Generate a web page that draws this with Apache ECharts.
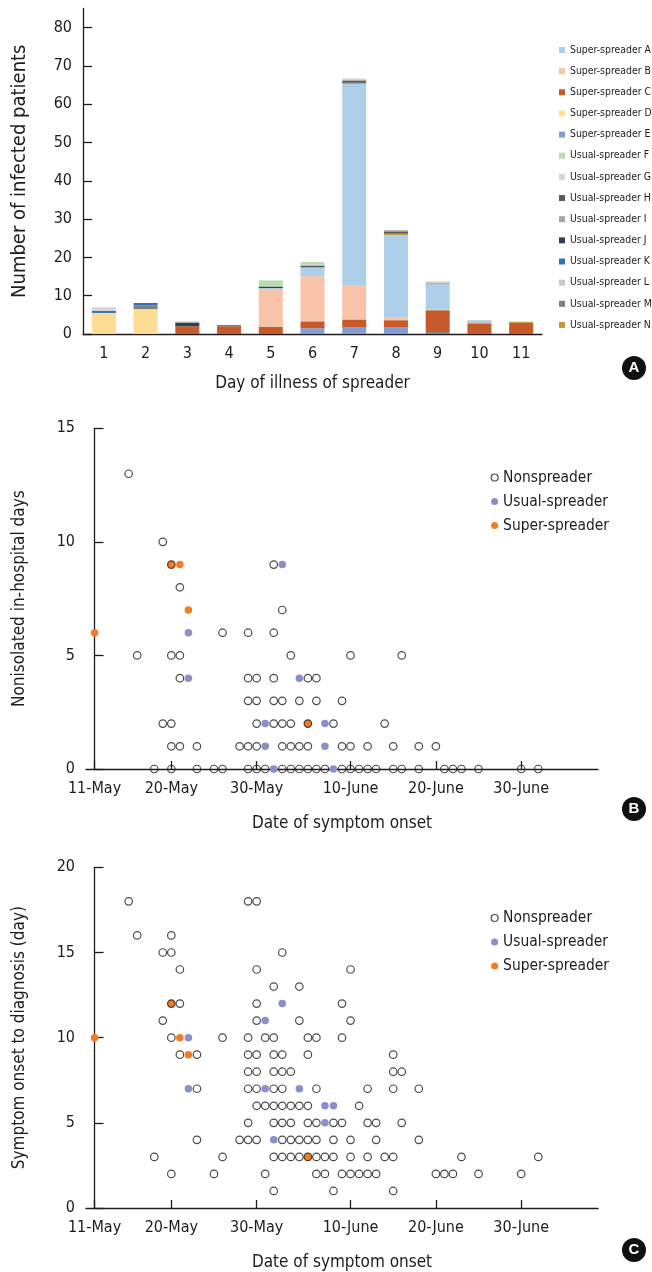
<!DOCTYPE html>
<html>
<head>
<meta charset="utf-8">
<script src="https://cdn.jsdelivr.net/npm/echarts@6/dist/echarts.min.js"></script>
<style>html,body{margin:0;padding:0;background:#fff}#c{width:652px;height:1272px}</style>
</head>
<body>
<div id="c"></div>
<script>
// ---------- Panel A data ----------
const days = ['1','2','3','4','5','6','7','8','9','10','11'];
const spreaderNames = ['Super-spreader A','Super-spreader B','Super-spreader C','Super-spreader D','Super-spreader E',
  'Usual-spreader F','Usual-spreader G','Usual-spreader H','Usual-spreader I','Usual-spreader J',
  'Usual-spreader K','Usual-spreader L','Usual-spreader M','Usual-spreader N'];
const superA = [0,0,0,0,0.4,2.3,52.5,21.4,6.6,0.3,0];
const superB = [0,0,0,0,9.7,11.8,9,0.8,0.3,0,0];
const superC = [0,0,2,2,1.9,1.8,2,1.8,5.7,2.8,2.9];
const superD = [5.5,6.5,0,0,0,0,0,0,0,0,0];
const superE = [0,0,0,0,0,1.5,1.8,1.8,0,0,0];
const usualF = [0,0,0,0,1.6,0.5,0.3,0,0,0,0];
const usualG = [1,0,0,0,0,0.4,0,0,0.4,0,0];
const usualH = [0,0,0,0.3,0,0.5,0.5,0.6,0,0,0];
const usualI = [0,0,0,0,0,0,0.3,0.3,0,0,0];
const usualJ = [0,0,1,0,0.4,0,0,0,0,0,0];
const usualK = [0.5,0.6,0,0,0,0,0,0,0,0,0];
const usualL = [0,0,0.3,0,0,0,0,0,0,0.3,0];
const usualM = [0,1,0,0,0,0,0,0,0.5,0,0];
const usualN = [0,0,0,0,0,0,0.3,0.4,0.3,0.2,0.3];
const yTicksA = [0,10,20,30,40,50,60,70,80];

// ---------- Panels B & C data (x = days after 11-May) ----------
const dateTickDays = [0,9,19,30,40,50];
const dateTickLabels = ['11-May','20-May','30-May','10-June','20-June','30-June'];
const groupNames = ['Nonspreader','Usual-spreader','Super-spreader'];

const bNon = [[4,13],[8,10],[9,9],[21,9],[10,8],[22,7],
  [15,6],[18,6],[21,6],
  [5,5],[9,5],[10,5],[23,5],[30,5],[36,5],
  [10,4],[18,4],[19,4],[21,4],[25,4],[26,4],
  [18,3],[19,3],[21,3],[22,3],[24,3],[26,3],[29,3],
  [8,2],[9,2],[19,2],[21,2],[22,2],[23,2],[25,2],[28,2],[34,2],
  [9,1],[10,1],[12,1],[17,1],[18,1],[19,1],[22,1],[23,1],[24,1],[25,1],[29,1],[30,1],[32,1],[35,1],[38,1],[40,1],
  [7,0],[9,0],[12,0],[14,0],[15,0],[18,0],[19,0],[20,0],[22,0],[23,0],[24,0],[25,0],[26,0],[27,0],[29,0],[30,0],
  [31,0],[32,0],[33,0],[35,0],[36,0],[38,0],[41,0],[42,0],[43,0],[45,0],[50,0],[52,0]];
const bUsual = [[22,9],[11,6],[11,4],[24,4],[20,2],[27,2],[20,1],[27,1],[21,0],[28,0]];
const bSuper = [[0,6],[9,9],[10,9],[11,7],[25,2]];

const cNon = [[4,18],[18,18],[19,18],
  [5,16],[9,16],
  [8,15],[9,15],[22,15],
  [10,14],[19,14],[30,14],
  [21,13],[24,13],
  [9,12],[10,12],[19,12],[29,12],
  [8,11],[19,11],[24,11],[30,11],
  [9,10],[15,10],[18,10],[20,10],[21,10],[25,10],[26,10],[29,10],
  [10,9],[12,9],[18,9],[19,9],[21,9],[22,9],[25,9],[35,9],
  [18,8],[19,8],[21,8],[22,8],[23,8],[35,8],[36,8],
  [12,7],[18,7],[19,7],[21,7],[22,7],[26,7],[32,7],[35,7],[38,7],
  [19,6],[20,6],[21,6],[22,6],[23,6],[24,6],[25,6],[31,6],
  [18,5],[21,5],[22,5],[23,5],[25,5],[26,5],[28,5],[29,5],[32,5],[33,5],[36,5],
  [12,4],[17,4],[18,4],[19,4],[22,4],[23,4],[24,4],[25,4],[26,4],[28,4],[30,4],[33,4],[38,4],
  [7,3],[15,3],[21,3],[22,3],[23,3],[24,3],[25,3],[26,3],[27,3],[28,3],[30,3],[32,3],[34,3],[35,3],[43,3],[52,3],
  [9,2],[14,2],[20,2],[26,2],[27,2],[29,2],[30,2],[31,2],[32,2],[33,2],[40,2],[41,2],[42,2],[45,2],[50,2],
  [21,1],[28,1],[35,1]];
const cUsual = [[22,12],[20,11],[11,10],[11,7],[20,7],[24,7],[27,6],[28,6],[27,5],[21,4]];
const cSuper = [[0,10],[9,12],[10,10],[11,9],[25,3]];

// ---------- styling ----------
const FONT = "'DejaVu Sans Condensed','Liberation Sans Narrow',sans-serif";
const INK = '#1f1b1c';
const barColors = ['#aecfe9','#f8c3a8','#c65a2b','#fddc93','#819fd6','#bbdbb3','#d6d6d6',
  '#595959','#a6a6a6','#333f50','#2e75b6','#c9c9c9','#7f7f7f','#c39a3c'];
const barValues = [superA,superB,superC,superD,superE,usualF,usualG,usualH,usualI,usualJ,usualK,usualL,usualM,usualN];
const stackOrder = [3,12,4,2,1,0,13,7,8,9,10,6,11,5]; // bottom -> top
const USUAL_COL = '#8b8ec8', SUPER_COL = '#f47b20';
const TICK_FS = 16, TITLE_FS = 17;

const chart = echarts.init(document.getElementById('c'), null, {renderer:'canvas'});

const axisLineStyle = {color: INK, width: 1.3};
function dateXAxis(gridIndex){
  return {
    type:'value', gridIndex, min:-1, max:59,
    name:'Date of symptom onset', nameLocation:'middle', nameGap:46,
    nameTextStyle:{fontFamily:FONT, fontSize:TITLE_FS, color:INK},
    axisLine:{show:true, lineStyle:axisLineStyle},
    axisTick:{show:true, inside:true, length:8, customValues:dateTickDays, lineStyle:axisLineStyle},
    axisLabel:{customValues:dateTickDays, fontFamily:FONT, fontSize:TICK_FS, color:INK, margin:12,
      formatter: v => { const i = dateTickDays.indexOf(v); return i >= 0 ? dateTickLabels[i] : ''; }},
    splitLine:{show:false}
  };
}
function countYAxis(gridIndex, max, name){
  return {
    type:'value', gridIndex, min:0, max, interval:5,
    name, nameLocation:'middle', nameGap:58, nameRotate:90,
    nameTextStyle:{fontFamily:FONT, fontSize:TITLE_FS, color:INK},
    axisLine:{show:true, lineStyle:axisLineStyle},
    axisTick:{show:true, inside:true, length:9, lineStyle:axisLineStyle},
    axisLabel:{fontFamily:FONT, fontSize:TICK_FS, color:INK, margin:11},
    splitLine:{show:false}
  };
}
function scatterSeries(name, data, xi, color, isOpen){
  return {
    type:'scatter', name, xAxisIndex:xi, yAxisIndex:xi, data,
    symbol:'circle', symbolSize:7.5, z: isOpen ? 4 : 3,
    itemStyle: isOpen ? {color:'transparent', borderColor:INK, borderWidth:1.2} : {color, opacity:1},
    emphasis:{disabled:true}
  };
}

const series = [];
stackOrder.forEach(i => {
  series.push({
    type:'bar', name:spreaderNames[i], stack:'a', xAxisIndex:0, yAxisIndex:0,
    data:barValues[i], barWidth:24, itemStyle:{color:barColors[i]}, emphasis:{disabled:true}
  });
});
series.push(scatterSeries('Nonspreader', bNon, 1, INK, true));
series.push(scatterSeries('Usual-spreader', bUsual, 1, USUAL_COL, false));
series.push(scatterSeries('Super-spreader', bSuper, 1, SUPER_COL, false));
series.push(scatterSeries('Nonspreader', cNon, 2, INK, true));
series.push(scatterSeries('Usual-spreader', cUsual, 2, USUAL_COL, false));
series.push(scatterSeries('Super-spreader', cSuper, 2, SUPER_COL, false));

function groupLegend(top){
  return {
    orient:'vertical', left:485.5, top, itemWidth:7, itemHeight:7, itemGap:4,
    textStyle:{fontFamily:FONT, fontSize:15.4, color:INK, lineHeight:20},
    selectedMode:false,
    data:[
      {name:'Nonspreader', icon:'circle', itemStyle:{color:'transparent', borderColor:INK, borderWidth:1.2}},
      {name:'Usual-spreader', icon:'circle', itemStyle:{color:USUAL_COL}},
      {name:'Super-spreader', icon:'circle', itemStyle:{color:SUPER_COL}}
    ]
  };
}

function badge(letter, cy){
  return {type:'group', left:622, top:cy-12, children:[
    {type:'circle', shape:{cx:12, cy:12, r:12}, style:{fill:'#111'}},
    {type:'text', x:12, y:12, style:{text:letter, fill:'#fff', font:"bold 15px 'Liberation Sans', Arial, sans-serif", align:'center', verticalAlign:'middle'}}
  ]};
}

chart.setOption({
  animation:false,
  backgroundColor:'#fff',
  textStyle:{fontFamily:FONT},
  grid:[
    {left:83, right:110, top:8.5, bottom:938},
    {left:86, right:54, top:428.3, bottom:503},
    {left:86, right:54, top:867.3, bottom:62.7}
  ],
  xAxis:[
    {type:'category', gridIndex:0, data:days,
     name:'Day of illness of spreader', nameLocation:'middle', nameGap:41,
     nameTextStyle:{fontFamily:FONT, fontSize:TITLE_FS, color:INK},
     axisLine:{lineStyle:axisLineStyle}, axisTick:{show:false},
     axisLabel:{fontFamily:FONT, fontSize:TICK_FS, color:INK, margin:12}},
    dateXAxis(1), dateXAxis(2)
  ],
  yAxis:[
    {type:'value', gridIndex:0, min:0, max:85,
     name:'Number of infected patients', nameLocation:'middle', nameGap:53.5, nameRotate:90,
     nameTextStyle:{fontFamily:FONT, fontSize:20, color:INK},
     axisLine:{show:true, lineStyle:axisLineStyle},
     axisTick:{show:true, inside:true, length:9, customValues:yTicksA, lineStyle:axisLineStyle},
     axisLabel:{customValues:yTicksA, fontFamily:FONT, fontSize:TICK_FS, color:INK, margin:11},
     splitLine:{show:false}},
    countYAxis(1, 15, 'Nonisolated in-hospital days'),
    countYAxis(2, 20, 'Symptom onset to diagnosis (day)')
  ],
  legend:[
    {orient:'vertical', left:554, top:39, itemWidth:6, itemHeight:6, itemGap:9.15, icon:'rect',
     selectedMode:false, data:spreaderNames,
     textStyle:{fontFamily:FONT, fontSize:10.4, color:INK, lineHeight:12}},
    groupLegend(462.5),
    groupLegend(903)
  ],
  graphic:[badge('A',368), badge('B',809), badge('C',1250)],
  series
});
</script>
</body>
</html>
